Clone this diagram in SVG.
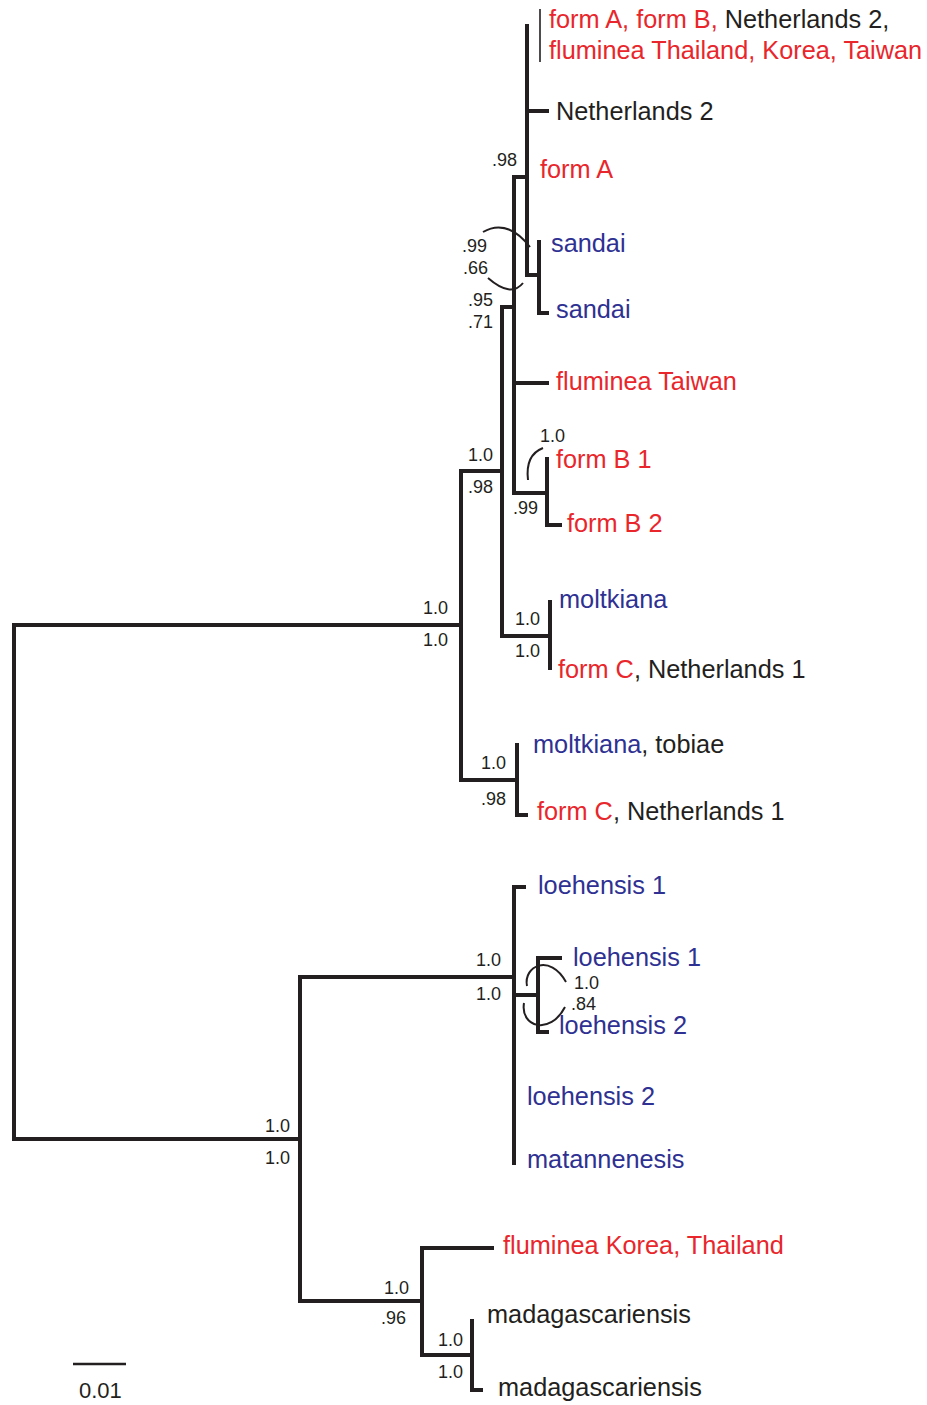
<svg xmlns="http://www.w3.org/2000/svg" width="927" height="1405" viewBox="0 0 927 1405">
<style>
.br{fill:none;stroke:#231f20;stroke-width:4;stroke-linejoin:miter;stroke-linecap:butt}
.arc{fill:none;stroke:#231f20;stroke-width:2}
.lf{font-family:"Liberation Sans",Arial,sans-serif;font-size:25.3px;fill:#231f20}
.sm{font-family:"Liberation Sans",Arial,sans-serif;font-size:18px;fill:#231f20;text-anchor:end}
.r{fill:#e8262b}
.b{fill:#2e3192}
.k{fill:#231f20}
</style>
<rect width="927" height="1405" fill="#fff"/>
<g id="connectors">
<path class="br" d="M461 625 H14 V1139 H300"/>
<path class="br" d="M502 471 H461 V780 H517"/>
<path class="br" d="M514 307 H502 V636 H550"/>
<path class="br" d="M550 600 V670"/>
<path class="br" d="M517 743 V815 H528"/>
<path class="br" d="M527 177 H514 V493 H547"/>
<path class="br" d="M514 383 H549"/>
<path class="br" d="M547 457 V525 H562"/>
<path class="br" d="M527 24 V275 H539"/>
<path class="br" d="M527 111 H549"/>
<path class="br" d="M539 240 V313 H549"/>
<path d="M540 9 V62" fill="none" stroke="#231f20" stroke-width="1.6"/>
<path class="br" d="M514 977 H300 V1301 H422"/>
<path class="br" d="M526 887 H514 V1165"/>
<path class="br" d="M514 995 H538"/>
<path class="br" d="M562 958 H538 V1032 H549"/>
<path class="br" d="M494 1248 H422 V1355 H472"/>
<path class="br" d="M472 1319 V1390 H483"/>
<path class="arc" d="M483 232 Q507 218 530 247"/>
<path class="arc" d="M488 278 Q511 298 523 283"/>
<path class="arc" d="M528 480 Q525 455 543 448"/>
<path class="arc" d="M527 986 C523 966 550 953 566 982"/>
<path class="arc" d="M524 1003 C520 1027 550 1036 565 1007"/>
<path d="M73 1364 H126" fill="none" stroke="#231f20" stroke-width="2.5"/>
</g>
<g id="support">
<text class="sm" x="517" y="166">.98</text>
<text class="sm" x="487" y="252">.99</text>
<text class="sm" x="488" y="274">.66</text>
<text class="sm" x="493" y="306">.95</text>
<text class="sm" x="493" y="328">.71</text>
<text class="sm" x="493" y="461">1.0</text>
<text class="sm" x="493" y="493">.98</text>
<text class="sm" x="538" y="514">.99</text>
<text class="sm" x="565" y="442">1.0</text>
<text class="sm" x="540" y="625">1.0</text>
<text class="sm" x="540" y="657">1.0</text>
<text class="sm" x="448" y="614">1.0</text>
<text class="sm" x="448" y="646">1.0</text>
<text class="sm" x="506" y="769">1.0</text>
<text class="sm" x="506" y="805">.98</text>
<text class="sm" x="501" y="966">1.0</text>
<text class="sm" x="501" y="1000">1.0</text>
<text class="sm" x="599" y="989">1.0</text>
<text class="sm" x="596" y="1010">.84</text>
<text class="sm" x="290" y="1132">1.0</text>
<text class="sm" x="290" y="1164">1.0</text>
<text class="sm" x="409" y="1294">1.0</text>
<text class="sm" x="406" y="1324">.96</text>
<text class="sm" x="463" y="1346">1.0</text>
<text class="sm" x="463" y="1378">1.0</text>
</g>
<g id="scale"><text x="79" y="1398" font-family="Liberation Sans,Arial,sans-serif" font-size="22" fill="#231f20">0.01</text></g>
<g id="n1"><text class="lf" x="549" y="28"><tspan class="r">form A, form B,</tspan> Netherlands 2,</text>
<text class="lf r" x="549" y="59">fluminea Thailand, Korea, Taiwan</text></g>
<g id="n2"><text class="lf" x="556" y="120">Netherlands 2</text></g>
<g id="n3"><text class="lf r" x="540" y="178">form A</text></g>
<g id="n4"><text class="lf b" x="551" y="252">sandai</text></g>
<g id="n5"><text class="lf b" x="556" y="318">sandai</text></g>
<g id="n6"><text class="lf r" x="556" y="390">fluminea Taiwan</text></g>
<g id="n7"><text class="lf r" x="556" y="468">form B 1</text></g>
<g id="n8"><text class="lf r" x="567" y="532">form B 2</text></g>
<g id="n9"><text class="lf b" x="559" y="608">moltkiana</text></g>
<g id="n10"><text class="lf" x="558" y="678"><tspan class="r">form C</tspan>, Netherlands 1</text></g>
<g id="n11"><text class="lf" x="533" y="753"><tspan class="b">moltkiana</tspan>, tobiae</text></g>
<g id="n12"><text class="lf" x="537" y="820"><tspan class="r">form C</tspan>, Netherlands 1</text></g>
<g id="n13"><text class="lf b" x="538" y="894">loehensis 1</text></g>
<g id="n14"><text class="lf b" x="573" y="966">loehensis 1</text></g>
<g id="n15"><text class="lf b" x="559" y="1034">loehensis 2</text></g>
<g id="n16"><text class="lf b" x="527" y="1105">loehensis 2</text></g>
<g id="n17"><text class="lf b" x="527" y="1168">matannenesis</text></g>
<g id="n18"><text class="lf r" x="503" y="1254">fluminea Korea, Thailand</text></g>
<g id="n19"><text class="lf" x="487" y="1323">madagascariensis</text></g>
<g id="n20"><text class="lf" x="498" y="1396">madagascariensis</text></g>
</svg>
